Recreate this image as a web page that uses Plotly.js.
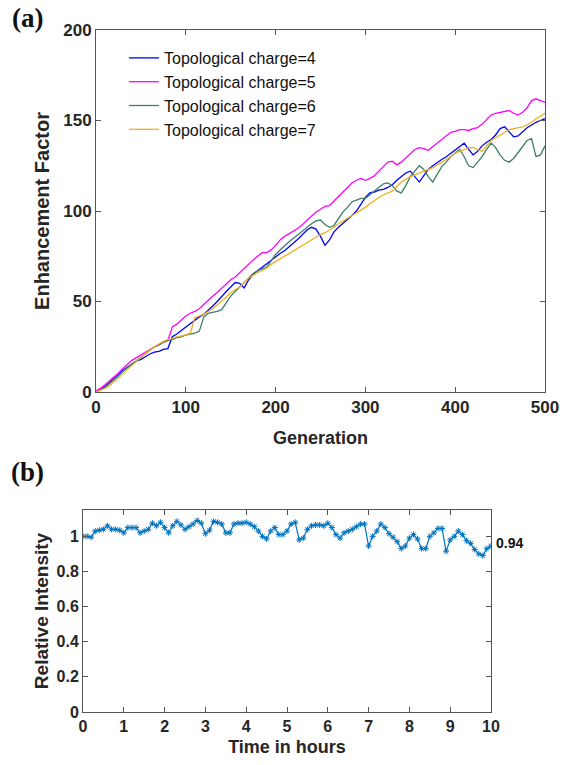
<!DOCTYPE html>
<html>
<head>
<meta charset="utf-8">
<script src="https://cdn.plot.ly/plotly-3.0.1.min.js"></script>
<style>html,body{margin:0;padding:0;background:#fff;}#chart{width:586px;height:765px;}</style>
</head>
<body>
<div id="chart"></div>
<script>
// ---------- Panel (a) data ----------
const generation = [0,5,10,15,20,25,30,35,40,45,50,55,60,65,70,75,80,85,90,95,100,105,110,115,120,125,130,135,140,145,150,155,160,165,170,175,180,185,190,195,200,205,210,215,220,225,230,235,240,245,250,255,260,265,270,275,280,285,290,295,300,305,310,315,320,325,330,335,340,345,350,355,360,365,370,375,380,385,390,395,400,405,410,415,420,425,430,435,440,445,450,455,460,465,470,475,480,485,490,495,500];

const charge4 = [0.5,1.5,3,5,7,9.5,12,14,15.5,17,18,19.5,21,22,22.5,23.5,24,30.5,32,34,36,38,40,41.5,43,45,47.5,50,53,55.5,58,60.5,60,57.5,62,65,67,69,71,73,75,76.5,78,80,82,84.5,87,89.5,91,90,86,81,84,88.5,91,93,95,97.5,100,104,107.5,110,110.5,111.5,112,113,114.5,117,119,121,122,119,116,119.5,123,125,127,128.5,130,132,134,136,137.5,134,131,133,136,138,139.5,142,145.5,146.5,143.5,141,141.5,144,146,147.5,149,150,151];

const charge5 = [0.5,2,4,6,8,10.5,13,15.5,17.5,19,20.5,22,23.5,25,26,27.5,28.5,36,37.5,40,42,43.5,44.5,46,48.5,51,53,55,57.5,60,62,63.5,66,68,70.5,73,75,77,77,78.5,81,84,86,87.5,89,90.5,92.5,95,97,99.5,101,102.5,103,105.5,108,110.5,113,115.5,117,118,117,118,119.5,122,124.5,127,127.5,125.5,127,129.5,131.5,134,135,134.5,133.5,135.5,138,140,142,143.5,144,145,145,144.5,145.5,146,148,150.5,153,154,154.5,155,155.5,154,153,154.5,157,161,162,161,160];

const charge6 = [0,1,2.5,4.5,6.5,9,11.5,13.5,15.5,17.5,19.5,21.5,23.5,25,26,27.5,28.5,29,30,30.5,31.5,32,32.5,33.5,41.5,43.5,44,44.5,45.5,49,53,55.5,58,61,63,65.5,67,68,69,72.5,76,78.5,81,83,85,87,89,91.5,93,94.5,95,92.5,91,92,96,99.5,102,105,106,107,107,109,111,113.5,115,115.5,114,111,110,114,119,122,125,123,119,116,120,124.5,127,130,132,134,130,125,124,127,130,134,137.5,135,131,128,127,129,132,135.5,139,140,130,131,136];

const charge7 = [0,1,2,3.5,5.5,7.5,10,12.5,14.5,17,19,21.5,23.5,25,26.5,28,29,29.5,30.5,31,31.5,32.5,41,42,43,44.5,46,48,50,52.5,55,56.5,58,60.5,63,64.5,66,67,68.5,70.5,72,73.5,75,76.5,78,79.5,81,82.5,84,85.5,87,88,89.5,91,93,94.5,96,97.5,99,100.5,102,104,106,107.5,109,110,111,113.5,116,117.5,119,120,121,122,123,124,125.5,127,128.5,130,132,133,134,135,135,134,133,136,139,140.5,142,143.5,145,145.5,146,146.5,147.5,149,151,152.5,154];

const seriesNames = ["Topological charge=4","Topological charge=5","Topological charge=6","Topological charge=7"];

// ---------- Panel (b) data ----------
const hours = [0,0.1,0.2,0.3,0.4,0.5,0.6,0.7,0.8,0.9,1,1.1,1.2,1.3,1.4,1.5,1.6,1.7,1.8,1.9,2,2.1,2.2,2.3,2.4,2.5,2.6,2.7,2.8,2.9,3,3.1,3.2,3.3,3.4,3.5,3.6,3.7,3.8,3.9,4,4.1,4.2,4.3,4.4,4.5,4.6,4.7,4.8,4.9,5,5.1,5.2,5.3,5.4,5.5,5.6,5.7,5.8,5.9,6,6.1,6.2,6.3,6.4,6.5,6.6,6.7,6.8,6.9,7,7.1,7.2,7.3,7.4,7.5,7.6,7.7,7.8,7.9,8,8.1,8.2,8.3,8.4,8.5,8.6,8.7,8.8,8.9,9,9.1,9.2,9.3,9.4,9.5,9.6,9.7,9.8,9.9,10];

const relIntensity = [1.00,1.00,0.995,1.03,1.035,1.04,1.06,1.04,1.04,1.035,1.02,1.05,1.05,1.05,1.02,1.03,1.04,1.075,1.06,1.08,1.05,1.02,1.06,1.085,1.065,1.04,1.055,1.07,1.09,1.075,1.015,1.035,1.085,1.08,1.07,1.02,1.02,1.07,1.075,1.075,1.08,1.07,1.055,1.03,1.00,0.985,1.03,1.05,1.01,1.01,1.03,1.07,1.08,0.98,0.99,1.04,1.06,1.065,1.065,1.06,1.075,1.05,1.01,0.99,1.02,1.03,1.04,1.055,1.07,1.07,0.945,1.00,1.03,1.07,1.05,1.015,0.995,0.97,0.93,0.945,0.99,1.01,0.985,0.93,0.93,1.00,1.02,1.045,1.045,0.915,0.98,1.00,1.03,1.01,0.975,0.96,0.925,0.90,0.89,0.93,0.945];

const finalLabel = "0.94";

// ---------- Styling ----------
const colors = ["#0000FF","#FF00FF","#3D7D68","#EDB120"];
const bold = {family:"Liberation Sans, Arial, sans-serif", weight:"bold", color:"#262626"};
const axisCommon = {
  showline:true, linecolor:"#555555", linewidth:1, mirror:"ticks",
  ticks:"inside", ticklen:5, tickcolor:"#555555", showgrid:false, zeroline:false,
  fixedrange:true
};

const traces = [charge4, charge5, charge6, charge7].map((vals, i) => ({
  x: generation, y: vals, type:"scatter", mode:"lines", name: seriesNames[i],
  line:{color:colors[i], width:1.3}, xaxis:"x", yaxis:"y"
}));

traces.push({
  x: hours, y: relIntensity, type:"scatter", mode:"lines+markers",
  line:{color:"#0072BD", width:1.2},
  marker:{symbol:"asterisk-open", size:5, color:"#0072BD", line:{color:"#0072BD", width:1}},
  xaxis:"x2", yaxis:"y2", showlegend:false
});

const W = 586, H = 765;
const layout = {
  width:W, height:H,
  margin:{l:0,r:0,t:0,b:0},
  paper_bgcolor:"#fff", plot_bgcolor:"#fff",
  showlegend:true,
  legend:{x:124/W, y:1-41/H, xanchor:"left", yanchor:"top", bgcolor:"rgba(0,0,0,0)",
    font:{family:"Liberation Sans, Arial, sans-serif", size:16, color:"#111"}, tracegroupgap:0},
  xaxis:Object.assign({}, axisCommon, {
    domain:[96/W, 545/W], range:[0,500], dtick:100, anchor:"y",
    tickfont:Object.assign({size:17}, bold),
    title:{text:"Generation", font:Object.assign({size:18}, bold), standoff:14}
  }),
  yaxis:Object.assign({}, axisCommon, {
    domain:[1-392/H, 1-30/H], range:[0,200], dtick:50, anchor:"x",
    tickfont:Object.assign({size:17}, bold),
    title:{text:"Enhancement Factor", font:Object.assign({size:20}, bold), standoff:8}
  }),
  xaxis2:Object.assign({}, axisCommon, {
    domain:[83/W, 491/W], range:[0,10], dtick:1, anchor:"y2",
    tickfont:Object.assign({size:16}, bold),
    title:{text:"Time in hours", font:Object.assign({size:18}, bold), standoff:6}
  }),
  yaxis2:Object.assign({}, axisCommon, {
    domain:[1-712/H, 1-510/H], range:[0,1.15], tickvals:[0,0.2,0.4,0.6,0.8,1],
    ticktext:["0","0.2","0.4","0.6","0.8","1"], anchor:"x2",
    tickfont:Object.assign({size:16}, bold),
    title:{text:"Relative Intensity", font:Object.assign({size:19}, bold), standoff:2}
  }),
  annotations:[
    {text:"(a)", x:27/W, y:1-18/H, xref:"paper", yref:"paper", xanchor:"center", yanchor:"middle", showarrow:false,
     font:{family:"Liberation Serif, Times New Roman, serif", size:27, weight:"bold", color:"#111"}},
    {text:"(b)", x:27/W, y:1-472/H, xref:"paper", yref:"paper", xanchor:"center", yanchor:"middle", showarrow:false,
     font:{family:"Liberation Serif, Times New Roman, serif", size:27, weight:"bold", color:"#111"}},
    {text:finalLabel, x:hours[hours.length-1], y:relIntensity[relIntensity.length-1],
     xref:"x2", yref:"y2", xanchor:"left", xshift:3, yshift:3, showarrow:false,
     font:{family:"Liberation Sans, Arial, sans-serif", size:14, weight:"bold", color:"#111"}}
  ]
};

Plotly.newPlot("chart", traces, layout, {staticPlot:true, displayModeBar:false});
</script>
</body>
</html>
